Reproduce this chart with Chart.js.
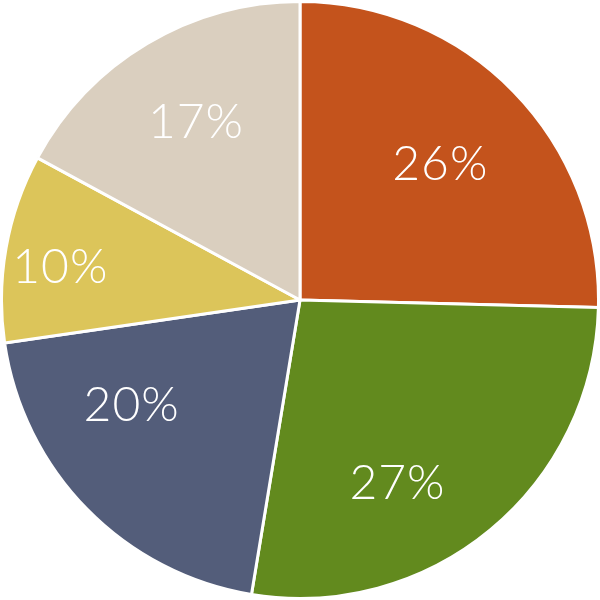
<!DOCTYPE html>
<html>
<head>
<meta charset="utf-8">
<script src="https://cdn.jsdelivr.net/npm/chart.js@4/dist/chart.umd.min.js"></script>
<style>
  html, body { margin: 0; padding: 0; background: #fff; }
  #wrap { width: 600px; height: 600px; }
</style>
</head>
<body>
<div id="wrap"><canvas id="mycanvas" width="600" height="600"></canvas></div>
<script>
var categories = ['A', 'B', 'C', 'D', 'E'];
// slice sizes
var shares = [25.4, 27.2, 20.1, 10.2, 17.1];
// printed labels
var labelText = ['26%', '27%', '20%', '10%', '17%'];
var sliceColors = ['#C4531C', '#628A1E', '#535D7A', '#DCC55A', '#DACFBF'];

// label placement: distance as share of radius, and angle nudge in degrees
var labelRadius = [0.65, 0.70, 0.667, 0.81, 0.685];
var labelNudge = [0.6, 11.8, 12.2, -2.6, 0.2];

var pieLabels = {
    id: 'pieLabels',
    afterDatasetsDraw: function (chart) {
        var ctx = chart.ctx;
        var meta = chart.getDatasetMeta(0);
        ctx.save();
        ctx.fillStyle = '#ffffff';
        ctx.font = '300 48px Lato, "Open Sans", sans-serif';
        ctx.letterSpacing = '1px';
        ctx.textAlign = 'center';
        ctx.textBaseline = 'middle';
        meta.data.forEach(function (arc, i) {
            var p = arc.getProps(['x', 'y', 'startAngle', 'endAngle', 'outerRadius'], true);
            var mid = (p.startAngle + p.endAngle) / 2 + labelNudge[i] * Math.PI / 180;
            var r = p.outerRadius * labelRadius[i];
            ctx.fillText(labelText[i], p.x + Math.cos(mid) * r, p.y + Math.sin(mid) * r - 1);
        });
        ctx.restore();
    }
};

var ctx = document.getElementById('mycanvas');
var piechart = new Chart(ctx, {
    type: 'pie',
    data: {
        labels: categories,
        datasets: [{
            data: shares,
            backgroundColor: sliceColors,
            borderColor: '#ffffff',
            borderWidth: 3
        }]
    },
    options: {
        responsive: false,
        animation: false,
        layout: { padding: { top: -2, bottom: -1, left: -2, right: -2 } },
        plugins: {
            legend: { display: false },
            tooltip: { enabled: false }
        }
    },
    plugins: [pieLabels]
});
</script>
</body>
</html>
